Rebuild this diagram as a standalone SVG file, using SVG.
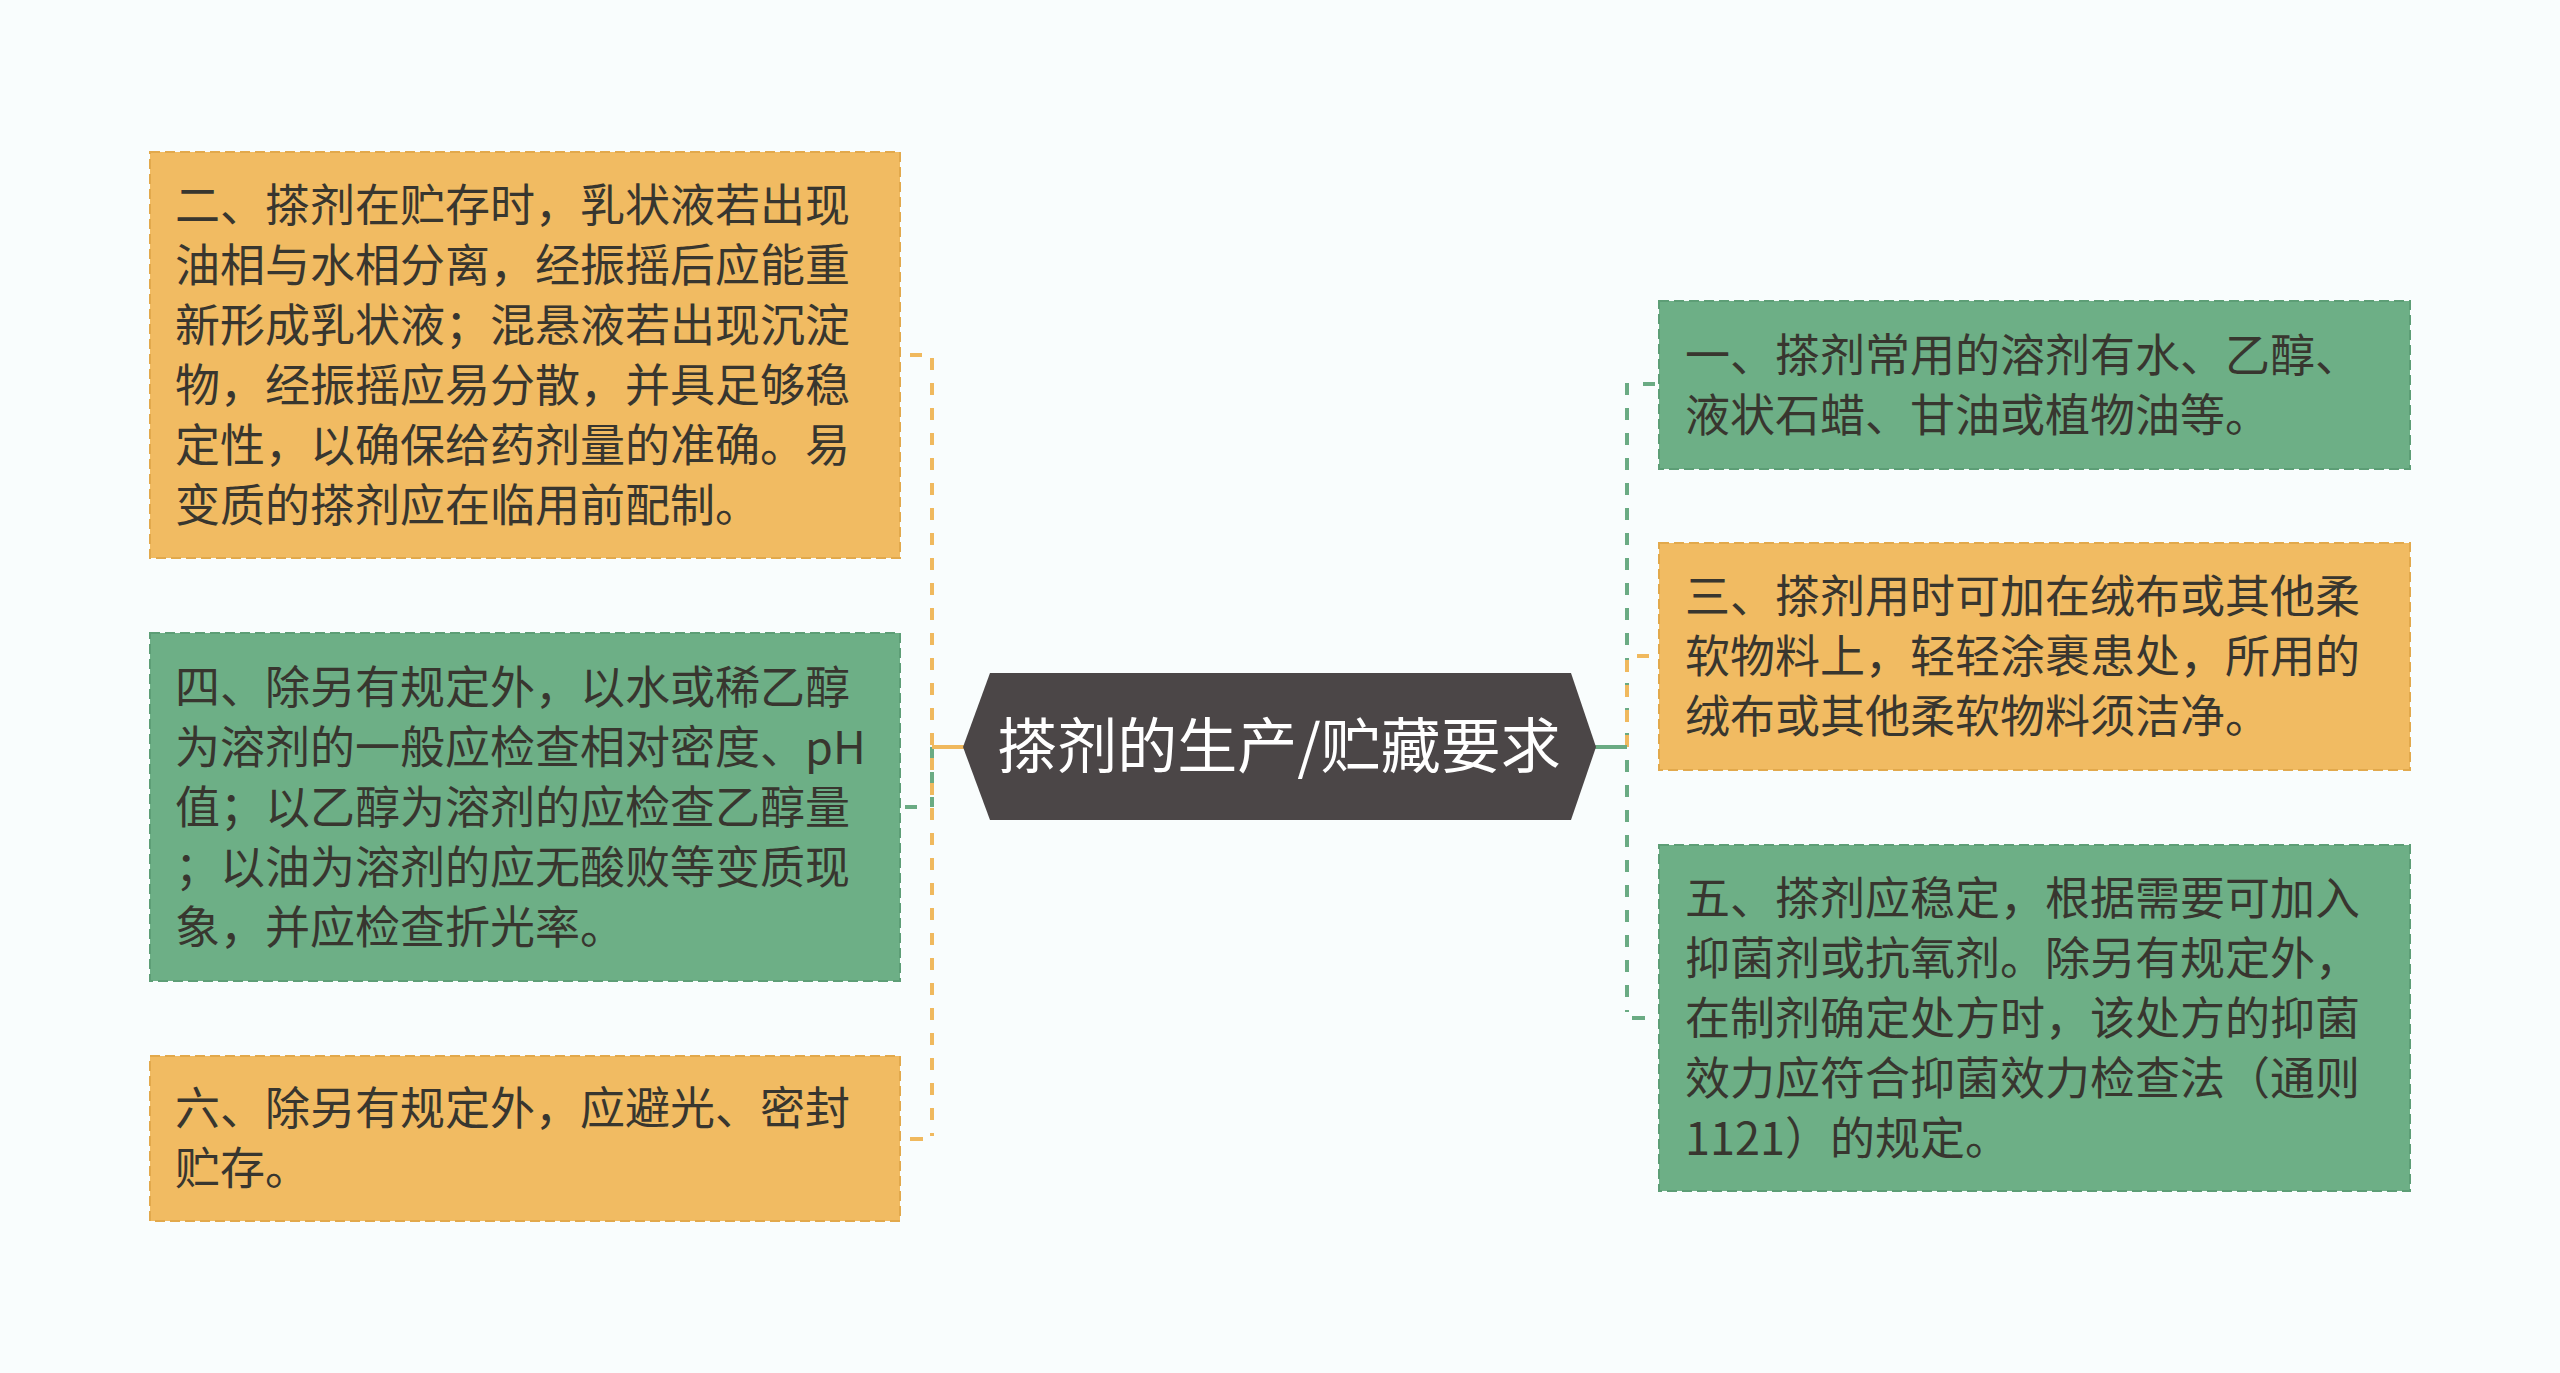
<svg xmlns="http://www.w3.org/2000/svg" width="2560" height="1373" viewBox="0 0 2560 1373">
<style>
.bg{fill:#f9fdfd}
.org{fill:#f1bb62;stroke:#e2a94c;stroke-width:2;stroke-dasharray:10 5}
.grn{fill:#6daf86;stroke:#5d9e76;stroke-width:2;stroke-dasharray:10 5}
.t{font-family:"Noto Sans CJK SC","Noto Sans",sans-serif;font-size:45px;fill:#38362f}
.ct{font-family:"Noto Sans CJK SC","Noto Sans",sans-serif;font-size:60px;fill:#ffffff}
.co{fill:none;stroke:#f0b95e;stroke-width:4}
.cg{fill:none;stroke:#6aab83;stroke-width:4}
.dash{stroke-dasharray:12 13}
</style>
<rect class="bg" x="0" y="0" width="2560" height="1373"/>
<g id="connectors">
  <path class="cg dash" d="M932 747 V807"/>
  <path class="cg" d="M917 807 H905"/>
  <path class="co dash" d="M932 358 V1136"/>
  <path class="co" d="M922 355 H910"/>
  <path class="co" d="M923 1139 H910"/>
  <path class="co" d="M965 747 H932"/>
  <path class="cg dash" d="M1627 383 V747"/>
  <path class="cg" d="M1655 384 H1643"/>
  <path class="co dash" d="M1627 660 V747"/>
  <path class="co" d="M1649 656 H1637"/>
  <path class="cg dash" d="M1627 760 V1012"/>
  <path class="cg" d="M1645 1018 H1632"/>
  <path class="cg" d="M1595 747 H1627"/>
</g>
<g id="center">
  <polygon points="990,673 1571,673 1596,747 1571,820 990,820 963,747" fill="#4b4647"/>
  <text class="ct" x="1279" y="768" text-anchor="middle">搽剂的生产/贮藏要求</text>
</g>
<g id="node2">
  <rect class="org" x="150" y="152" width="750" height="406"/>
  <text class="t">
    <tspan x="175" y="222">二、搽剂在贮存时，乳状液若出现</tspan>
    <tspan x="175" y="282">油相与水相分离，经振摇后应能重</tspan>
    <tspan x="175" y="342">新形成乳状液；混悬液若出现沉淀</tspan>
    <tspan x="175" y="402">物，经振摇应易分散，并具足够稳</tspan>
    <tspan x="175" y="462">定性，以确保给药剂量的准确。易</tspan>
    <tspan x="175" y="522">变质的搽剂应在临用前配制。</tspan>
  </text>
</g>
<g id="node4">
  <rect class="grn" x="150" y="633" width="750" height="348"/>
  <text class="t">
    <tspan x="175" y="704">四、除另有规定外，以水或稀乙醇</tspan>
    <tspan x="175" y="764">为溶剂的一般应检查相对密度、pH</tspan>
    <tspan x="175" y="824">值；以乙醇为溶剂的应检查乙醇量</tspan>
    <tspan x="175" y="884">；以油为溶剂的应无酸败等变质现</tspan>
    <tspan x="175" y="944">象，并应检查折光率。</tspan>
  </text>
</g>
<g id="node6">
  <rect class="org" x="150" y="1056" width="750" height="165"/>
  <text class="t">
    <tspan x="175" y="1125">六、除另有规定外，应避光、密封</tspan>
    <tspan x="175" y="1185">贮存。</tspan>
  </text>
</g>
<g id="node1">
  <rect class="grn" x="1659" y="301" width="751" height="168"/>
  <text class="t">
    <tspan x="1685" y="372">一、搽剂常用的溶剂有水、乙醇、</tspan>
    <tspan x="1685" y="432">液状石蜡、甘油或植物油等。</tspan>
  </text>
</g>
<g id="node3">
  <rect class="org" x="1659" y="543" width="751" height="227"/>
  <text class="t">
    <tspan x="1685" y="613">三、搽剂用时可加在绒布或其他柔</tspan>
    <tspan x="1685" y="673">软物料上，轻轻涂裹患处，所用的</tspan>
    <tspan x="1685" y="733">绒布或其他柔软物料须洁净。</tspan>
  </text>
</g>
<g id="node5">
  <rect class="grn" x="1659" y="845" width="751" height="346"/>
  <text class="t">
    <tspan x="1685" y="915">五、搽剂应稳定，根据需要可加入</tspan>
    <tspan x="1685" y="975">抑菌剂或抗氧剂。除另有规定外，</tspan>
    <tspan x="1685" y="1035">在制剂确定处方时，该处方的抑菌</tspan>
    <tspan x="1685" y="1095">效力应符合抑菌效力检查法（通则</tspan>
    <tspan x="1685" y="1155">1121）的规定。</tspan>
  </text>
</g>
</svg>
